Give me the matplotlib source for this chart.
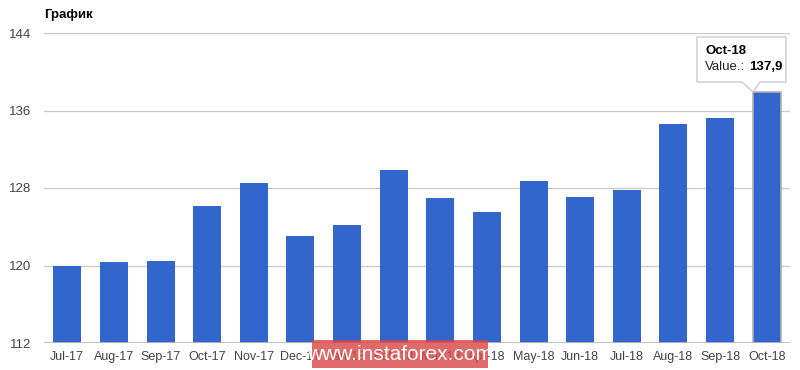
import matplotlib
matplotlib.use("Agg")
import matplotlib.pyplot as plt
from matplotlib.patches import Polygon, Rectangle

plt.rcParams['font.family'] = ['Liberation Sans', 'DejaVu Sans']

categories = ["Jul-17", "Aug-17", "Sep-17", "Oct-17", "Nov-17", "Dec-17", "Jan-18", "Feb-18",
              "Mar-18", "Apr-18", "May-18", "Jun-18", "Jul-18", "Aug-18", "Sep-18", "Oct-18"]
values = [120.0, 120.35, 120.5, 126.1, 128.55, 123.0, 124.2, 129.9,
          127.0, 125.5, 128.7, 127.1, 127.8, 134.6, 135.2, 137.9]
yticks = [112, 120, 128, 136, 144]
title = "График"
tooltip_cat = "Oct-18"
tooltip_label = "Value.:"
tooltip_value = "137,9"
watermark = "www.instaforex.com"

W, H = 800, 370
fig = plt.figure(figsize=(W / 100, H / 100), dpi=100)
ax = fig.add_axes([44 / W, 1 - 343 / H, 746 / W, 310 / H])

x = list(range(len(categories)))
bars = ax.bar(x, values, width=0.6, color="#3366CC", zorder=3)
bars[-1].set_edgecolor("#b0b0b0")
bars[-1].set_linewidth(1.2)

ax.set_xlim(-0.5, len(categories) - 0.5)
ax.set_ylim(112, 144)
ax.set_yticks(yticks)
ax.set_yticklabels([str(t) for t in yticks])
ax.set_xticks(x)
ax.set_xticklabels(categories)
ax.tick_params(axis="both", length=0, labelsize=9, colors="#444444")
ax.tick_params(axis="y", pad=9, labelsize=9.5)
ax.tick_params(axis="x", pad=6)
ax.grid(axis="y", color="#cccccc", linewidth=1, zorder=0)
for s in ax.spines.values():
    s.set_visible(False)
ax.axhline(112, color="#bbbbbb", linewidth=1.2, zorder=4)

def fx(px):
    return px / W

def fy(py):
    return 1 - py / H

fig.text(fx(44), fy(15), title, fontsize=9.5, fontweight="bold", color="#000000", va="center", ha="left")

# tooltip
bx0, bx1, by0, by1 = 697, 786, 37, 82
tip = [(fx(bx0), fy(by0)), (fx(bx1), fy(by0)), (fx(bx1), fy(by1)),
       (fx(760), fy(by1)), (fx(753), fy(92)), (fx(742), fy(by1)),
       (fx(bx0), fy(by1))]
fig.add_artist(Polygon(tip, closed=True, transform=fig.transFigure,
                       facecolor="white", edgecolor="#cccccc", linewidth=1, zorder=10))
fig.text(fx(705), fy(51), tooltip_cat, fontsize=9.5, fontweight="bold", color="#000000",
         va="center", ha="left", zorder=11)
t1 = fig.text(fx(705), fy(67), tooltip_label, fontsize=9.5, color="#222222",
              va="center", ha="left", zorder=11)
fig.canvas.draw()
bb = t1.get_window_extent(renderer=fig.canvas.get_renderer())
fig.text((bb.x1 + 4) / W, fy(67), tooltip_value, fontsize=9.5, fontweight="bold", color="#000000",
         va="center", ha="left", zorder=11)

# watermark
fig.add_artist(Rectangle((fx(312), fy(368)), (488 - 312) / W, 28 / H, transform=fig.transFigure,
                         facecolor="#d94545", alpha=0.8, edgecolor="none", zorder=12))
fig.text(fx(400), fy(354), watermark, fontsize=15, color="white", va="center", ha="center", zorder=13)

fig.savefig("out.png", dpi=100)
